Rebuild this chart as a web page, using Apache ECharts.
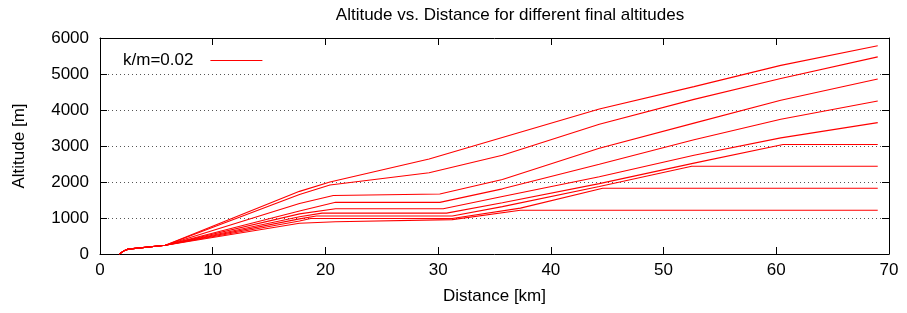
<!DOCTYPE html>
<html>
<head>
<meta charset="utf-8">
<script src="https://cdn.jsdelivr.net/npm/echarts@6/dist/echarts.min.js"></script>
<style>
body{margin:0;background:#fff}
#main{width:907px;height:313px}
</style>
</head>
<body>
<div id="main"></div>
<script>
// distance [km], altitude [m] for each final altitude
var start = [[1.7, 0], [2.2, 100], [2.5, 135], [5.8, 245]];
var line1 = [[17.7, 855], [20.9, 895], [31.25, 955], [37.3, 1215], [69, 1215]];
var line2 = [[17.7, 915], [18.7, 985], [31.25, 985], [37.3, 1275], [44.6, 1825], [69, 1825]];
var line3 = [[17.7, 975], [19.2, 1055], [31.25, 1055], [35.7, 1315], [44.3, 1875], [52.5, 2436], [69, 2436]];
var line4 = [[17.7, 1035], [19.7, 1135], [30.75, 1135], [35.7, 1425], [44.3, 1955], [52.7, 2525], [60.6, 3040], [69, 3040]];
var line5 = [[17.7, 1115], [20.9, 1255], [30.45, 1255], [35.7, 1595], [44.3, 2145], [52.7, 2745], [60.4, 3225], [69, 3650]];
var line6 = [[17.7, 1195], [20.9, 1435], [30.15, 1435], [35.7, 1810], [44.3, 2495], [52.7, 3175], [60.4, 3745], [69, 4250]];
var line7 = [[17.7, 1405], [20.7, 1625], [30.15, 1665], [35.7, 2070], [44.3, 2935], [52.7, 3635], [60.4, 4270], [69, 4860]];
var line8 = [[17.7, 1650], [20.4, 1915], [29.2, 2255], [35.7, 2745], [44.3, 3605], [52.7, 4295], [60.4, 4875], [69, 5475]];
var line9 = [[17.7, 1740], [20.4, 2000], [29.2, 2640], [44.3, 4030], [52.7, 4650], [60.4, 5240], [69, 5786]];
var lines = [line1, line2, line3, line4, line5, line6, line7, line8, line9];

(function(){
    var myChart = echarts.init(document.getElementById("main"));
    var font = 'Liberation Sans, Arial, sans-serif';

    var series = [];
    for (var i = 0; i < lines.length; i++) {
        series.push({
            name: 'k/m=0.02',
            type: 'line',
            symbol: 'none',
            data: start.concat(lines[i]),
            lineStyle: { color: '#ff0000', width: 1.1 },
            itemStyle: { color: '#ff0000' }
        });
    }

    var tick = { show: true, inside: true, length: 7, lineStyle: { color: '#000' } };
    var axisLine = { show: true, onZero: false, lineStyle: { color: '#000', width: 1 } };

    var option = {
        animation: false,
        title: {
            text: 'Altitude vs. Distance for different final altitudes',
            left: 505,
            top: 2,
            textAlign: 'center',
            textStyle: { fontFamily: font, fontSize: 17, fontWeight: 'normal', color: '#000' }
        },
        legend: {
            data: ['k/m=0.02'],
            left: 118,
            top: 47,
            align: 'right',
            icon: 'rect',
            itemWidth: 52,
            itemHeight: 1,
            textStyle: { fontFamily: font, fontSize: 17, color: '#000', padding: [0, 12, 0, 0] }
        },
        grid: { left: 100, right: 18, top: 38, bottom: 59 },
        xAxis: [
            {
                type: 'value', min: 0, max: 70, interval: 10, position: 'bottom',
                axisLine: axisLine, axisTick: tick, splitLine: { show: false },
                axisLabel: { fontFamily: font, fontSize: 17, color: '#000', margin: 8 },
                name: 'Distance [km]', nameLocation: 'middle', nameGap: 34,
                nameTextStyle: { fontFamily: font, fontSize: 17, color: '#000' }
            },
            {
                type: 'value', min: 0, max: 70, interval: 10, position: 'top',
                axisLine: axisLine, axisTick: tick, splitLine: { show: false },
                axisLabel: { show: false }
            }
        ],
        yAxis: [
            {
                type: 'value', min: 0, max: 6000, interval: 1000, position: 'left',
                axisLine: axisLine, axisTick: tick,
                splitLine: { show: true, lineStyle: { color: '#555', type: [1, 3], width: 1 } },
                axisLabel: {
                    fontFamily: font, fontSize: 17, color: '#000', margin: 11,
                    formatter: function (v) { return String(v); }
                },
                name: 'Altitude [m]', nameLocation: 'middle', nameGap: 72, nameRotate: 90,
                nameTextStyle: { fontFamily: font, fontSize: 17, color: '#000' }
            },
            {
                type: 'value', min: 0, max: 6000, interval: 1000, position: 'right',
                axisLine: axisLine, axisTick: tick, splitLine: { show: false },
                axisLabel: { show: false }
            }
        ],
        series: series
    };

    myChart.setOption(option);
})();
</script>
</body>
</html>
